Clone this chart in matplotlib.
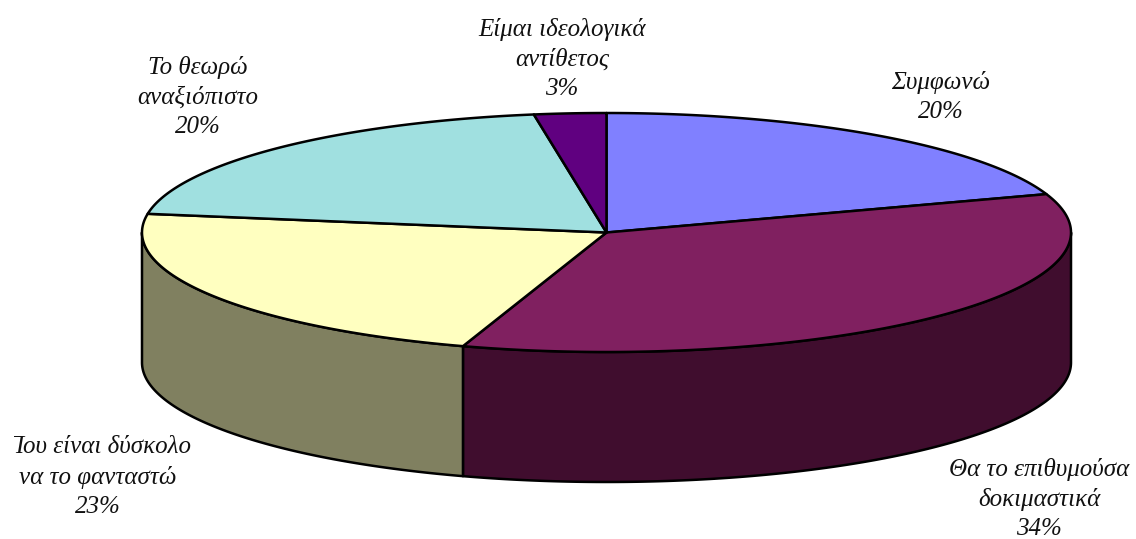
import numpy as np
import matplotlib
matplotlib.use('Agg')
import matplotlib.pyplot as plt
from matplotlib.transforms import Bbox

plt.rcParams['font.family'] = ['Liberation Serif', 'DejaVu Serif']

# Datos del grafico (tajadas medidas sobre la imagen, etiquetas tal como aparecen)
categories = ['Συμφωνώ', 'Θα το επιθυμούσα\nδοκιμαστικά', 'Που είναι δύσκολο\nνα το φανταστώ',
              'Το θεωρώ\nαναξιόπιστο', 'Είμαι ιδεολογικά\nαντίθετος']
slice_shares = [19.8, 35.2, 22.5, 20.0, 2.5]
percent_labels = [20, 34, 23, 20, 3]
top_colors = ['#8080FF', '#802060', '#FFFFC0', '#A0E0E0', '#600080']
side_colors = ['#404080', '#400D2E', '#808060', '#507070', '#300040']
label_pos = [(941, 97), (1039, 499), (98, 477), (198, 97), (562, 59)]

# Geometria de la torta en pixeles
cx, cy = 606.5, 232.5
rx, ry = 464.5, 119.5
depth = 130

W, H = 1136, 539
fig = plt.figure(figsize=(W / 100, H / 100), dpi=100)
ax = fig.add_axes([0, 0, 1, 1])
ax.set_xlim(0, W)
ax.set_ylim(H, 0)
ax.axis('off')


def rim(a0, a1, dy=0):
    # angulos en grados, en sentido horario desde arriba
    t = np.radians(np.linspace(a0, a1, 200))
    return cx + rx * np.sin(t), cy - ry * np.cos(t) + dy


edges = np.concatenate([[0], np.cumsum(slice_shares)]) / sum(slice_shares) * 360

# Pared lateral: solo la parte visible (entre 90 y 270 grados)
for i in range(len(slice_shares)):
    a0, a1 = max(edges[i], 90), min(edges[i + 1], 270)
    if a0 >= a1:
        continue
    xt, yt = rim(a0, a1)
    xb, yb = rim(a1, a0, depth)
    ax.fill(np.r_[xt, xb], np.r_[yt, yb], facecolor=side_colors[i],
            edgecolor='black', linewidth=1.8, joinstyle='round', zorder=2)

# Cara superior
for i in range(len(slice_shares)):
    xs, ys = rim(edges[i], edges[i + 1])
    ax.fill(np.r_[cx, xs], np.r_[cy, ys], facecolor=top_colors[i],
            edgecolor='black', linewidth=1.8, joinstyle='round', zorder=3)

# Etiquetas
for name, pct, (x, y) in zip(categories, percent_labels, label_pos):
    t = ax.text(x, y, f'{name}\n{pct}%', ha='center', va='center', style='italic',
                fontsize=18, color='#111111', linespacing=1.42, zorder=4)
    if name.startswith('Που'):
        # la etiqueta esta cortada por la izquierda en el original
        t.set_clip_box(Bbox([[14, 0], [W, H]]))
        t.set_clip_on(True)

plt.savefig('out.png', dpi=100)
